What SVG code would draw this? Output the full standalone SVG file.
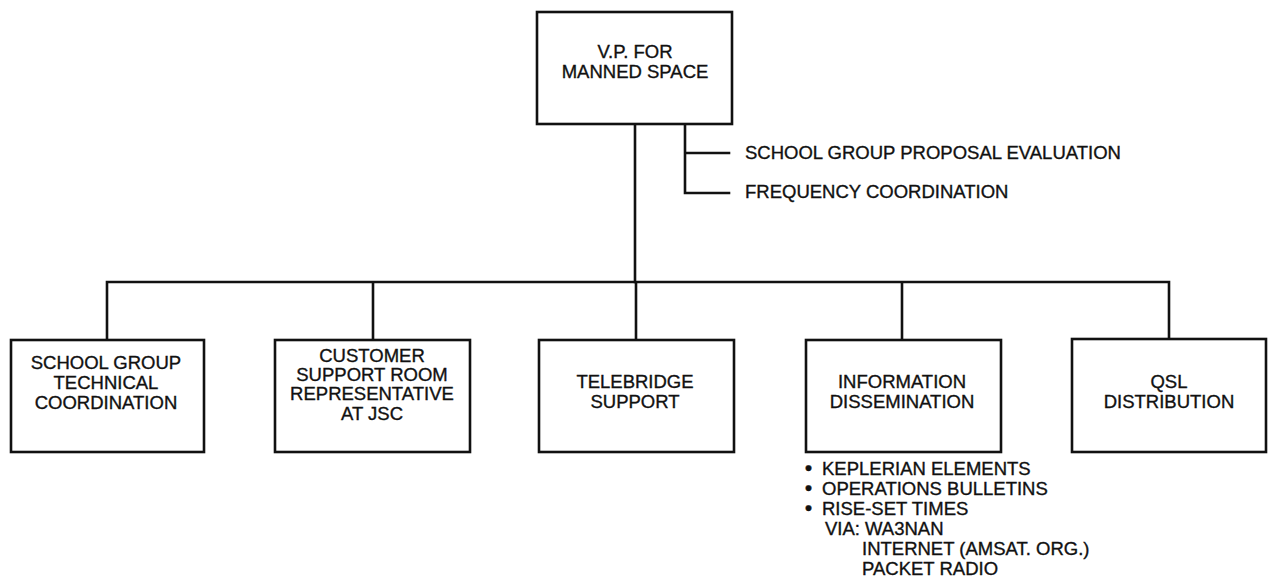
<svg xmlns="http://www.w3.org/2000/svg" width="1268" height="587" viewBox="0 0 1268 587">
<style>
.box{fill:#fff;stroke:#111;stroke-width:2.6}
.ln{fill:none;stroke:#111;stroke-width:2.6;stroke-linecap:square}
text{font-family:"Liberation Sans",Arial,sans-serif;font-size:18.5px;fill:#111;stroke:#111;stroke-width:0.35}
.c{text-anchor:middle}
.b{font-size:20px;font-weight:bold}
</style>
<rect width="1268" height="587" fill="#fff"/>
<g id="connectors">
<path class="ln" d="M635 124V282M685 124V193M685 153H729M685 193H729"/>
<path class="ln" d="M107 340V282H1169V339M373 282V340M636 282V340M902 282V340"/>
</g>
<g id="vp">
<rect class="box" x="537" y="12" width="195" height="112"/>
<text class="c" x="635" y="58">V.P. FOR</text>
<text class="c" x="635" y="78">MANNED SPACE</text>
</g>
<g id="proposal"><text x="745" y="159">SCHOOL GROUP PROPOSAL EVALUATION</text></g>
<g id="frequency"><text x="745" y="198">FREQUENCY COORDINATION</text></g>
<g id="school">
<rect class="box" x="11" y="340" width="193" height="112"/>
<text class="c" x="106" y="369">SCHOOL GROUP</text>
<text class="c" x="106" y="389">TECHNICAL</text>
<text class="c" x="106" y="409">COORDINATION</text>
</g>
<g id="customer">
<rect class="box" x="275" y="340" width="195" height="112"/>
<text class="c" x="372" y="362">CUSTOMER</text>
<text class="c" x="372" y="381">SUPPORT ROOM</text>
<text class="c" x="372" y="400">REPRESENTATIVE</text>
<text class="c" x="372" y="420">AT JSC</text>
</g>
<g id="telebridge">
<rect class="box" x="539" y="340" width="195" height="112"/>
<text class="c" x="635" y="388">TELEBRIDGE</text>
<text class="c" x="635" y="408">SUPPORT</text>
</g>
<g id="information">
<rect class="box" x="806" y="340" width="195" height="112"/>
<text class="c" x="902" y="388">INFORMATION</text>
<text class="c" x="902" y="408">DISSEMINATION</text>
</g>
<g id="qsl">
<rect class="box" x="1072" y="339" width="194" height="113"/>
<text class="c" x="1169" y="388">QSL</text>
<text class="c" x="1169" y="408">DISTRIBUTION</text>
</g>
<g id="info-list">
<text x="805" y="475"><tspan class="b">•</tspan><tspan x="822">KEPLERIAN ELEMENTS</tspan></text>
<text x="805" y="495"><tspan class="b">•</tspan><tspan x="822">OPERATIONS BULLETINS</tspan></text>
<text x="805" y="515"><tspan class="b">•</tspan><tspan x="822">RISE-SET TIMES</tspan></text>
<text x="825" y="535">VIA: WA3NAN</text>
<text x="862" y="555">INTERNET (AMSAT. ORG.)</text>
<text x="862" y="575">PACKET RADIO</text>
</g>
</svg>
